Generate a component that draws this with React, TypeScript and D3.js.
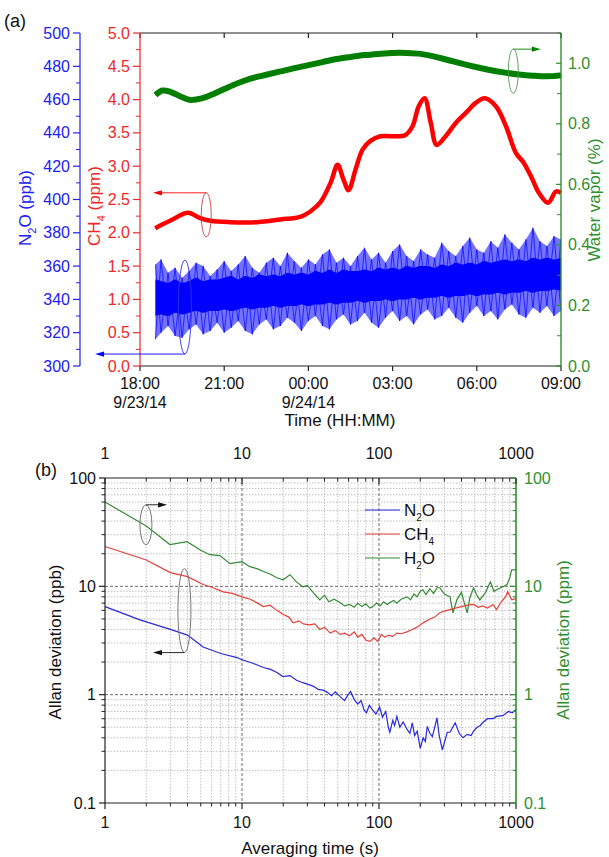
import React from 'react';
import * as d3 from 'd3';

// ---------------- Panel (a) data ----------------
const timeTickHours = [0, 3, 6, 9, 12, 15];
const timeTickLabels = ['18:00', '21:00', '00:00', '03:00', '06:00', '09:00'];
const dateTickLabels = ['9/23/14', '', '9/24/14', '', '', ''];

const h2oHours = [0.55, 0.8, 1.1, 1.5, 1.8, 2.2, 2.6, 3.0, 3.5, 4.0, 4.5, 5.0, 5.5, 6.0, 6.5, 7.0, 7.5, 8.0, 8.5, 9.0, 9.5, 10.0, 10.5, 11.0, 11.5, 12.0, 12.5, 13.0, 13.5, 14.0, 14.5, 15.0];
const h2oValues = [0.895, 0.91, 0.905, 0.888, 0.879, 0.884, 0.898, 0.915, 0.935, 0.951, 0.962, 0.973, 0.984, 0.994, 1.004, 1.014, 1.021, 1.027, 1.031, 1.034, 1.034, 1.031, 1.022, 1.01, 0.998, 0.987, 0.977, 0.969, 0.963, 0.959, 0.957, 0.96];

const ch4Hours = [0.54, 1.07, 1.71, 2.14, 2.5, 3.2, 4.18, 5.0, 5.71, 6.07, 6.43, 6.79, 7.04, 7.25, 7.43, 7.68, 7.93, 8.21, 8.57, 9.0, 9.46, 9.71, 9.93, 10.14, 10.36, 10.57, 10.89, 11.25, 11.61, 11.96, 12.29, 12.68, 13.04, 13.39, 13.64, 13.93, 14.21, 14.54, 14.82, 15.0];
const ch4Values = [2.07, 2.18, 2.3, 2.22, 2.18, 2.16, 2.16, 2.2, 2.24, 2.32, 2.46, 2.75, 3.02, 2.8, 2.64, 2.95, 3.25, 3.38, 3.45, 3.45, 3.47, 3.6, 3.9, 4.02, 3.65, 3.32, 3.45, 3.65, 3.8, 3.95, 4.02, 3.9, 3.6, 3.2, 3.07, 2.85, 2.6, 2.45, 2.62, 2.6];

const n2oHours = [0.55, 0.75, 1, 1.25, 1.5, 1.75, 2, 2.25, 2.5, 2.75, 3, 3.25, 3.5, 3.75, 4, 4.25, 4.5, 4.75, 5, 5.25, 5.5, 5.75, 6, 6.25, 6.5, 6.75, 7, 7.25, 7.5, 7.75, 8, 8.25, 8.5, 8.75, 9, 9.25, 9.5, 9.75, 10, 10.25, 10.5, 10.75, 11, 11.25, 11.5, 11.75, 12, 12.25, 12.5, 12.75, 13, 13.25, 13.5, 13.75, 14, 14.25, 14.5, 14.75, 15];
const n2oHigh = [361, 364, 356, 359, 353, 357, 362, 360, 354, 358, 363, 357, 361, 366, 359, 356, 362, 365, 360, 368, 363, 359, 364, 361, 367, 370, 362, 365, 360, 366, 371, 364, 368, 362, 369, 373, 366, 363, 370, 367, 365, 374, 369, 366, 372, 377, 370, 368, 375, 371, 379, 374, 370, 376, 383, 375, 372, 378, 376];
const n2oLow = [316, 320, 324, 318, 317, 322, 325, 319, 321, 326, 320, 323, 327, 321, 319, 325, 328, 322, 324, 329, 326, 321, 327, 330, 324, 322, 328, 331, 325, 327, 332, 326, 323, 329, 333, 327, 330, 325, 331, 334, 328, 330, 335, 329, 326, 332, 336, 330, 333, 328, 334, 337, 331, 329, 335, 332, 336, 330, 333];
const n2oCoreLow = [330, 331, 330, 332, 331, 332, 333, 332, 333, 333, 334, 333, 334, 335, 334, 335, 335, 336, 335, 336, 336, 337, 336, 337, 337, 338, 337, 338, 338, 339, 338, 339, 339, 340, 339, 340, 340, 341, 340, 341, 341, 342, 341, 342, 342, 343, 342, 343, 343, 344, 343, 344, 344, 345, 344, 345, 345, 346, 345];
const n2oCoreHigh = [352, 351, 350, 352, 350, 351, 353, 351, 352, 352, 353, 354, 352, 354, 353, 355, 354, 355, 354, 356, 355, 356, 355, 357, 356, 358, 356, 358, 357, 357, 358, 357, 359, 358, 359, 358, 360, 359, 360, 360, 359, 361, 360, 362, 361, 362, 361, 363, 362, 363, 364, 363, 364, 363, 365, 364, 365, 364, 365];

const n2oAxisTicks = [300, 320, 340, 360, 380, 400, 420, 440, 460, 480, 500];
const ch4AxisTicks = [0, 0.5, 1, 1.5, 2, 2.5, 3, 3.5, 4, 4.5, 5];
const h2oAxisTicks = [0, 0.2, 0.4, 0.6, 0.8, 1.0];

// ---------------- Panel (b) data ----------------
const n2oTau = [1, 1.8, 3, 4, 5.2, 7, 9.2, 10, 12, 14.3, 16, 18, 19.9, 22.4, 25, 27.8, 30, 33, 36, 39, 42, 45, 48, 52, 56, 59, 62, 66, 70, 74, 78, 81, 85, 90, 95, 101, 106, 112, 117, 120, 126, 130, 135, 142, 150, 160, 168, 175, 182, 190, 200, 210, 218, 225, 235, 245, 255, 265, 275, 290, 300, 315, 330, 345, 360, 385, 410, 440, 470, 490, 520, 550, 570, 620, 680, 720, 800, 880, 940, 1000];
const n2oAdev = [6.5, 4.9, 4.0, 3.55, 2.75, 2.4, 2.2, 2.1, 1.95, 1.78, 1.72, 1.6, 1.47, 1.5, 1.36, 1.29, 1.25, 1.2, 1.12, 1.1, 1.05, 0.98, 1.06, 0.96, 0.88, 0.98, 1.07, 0.9, 0.82, 0.88, 0.72, 0.68, 0.8, 0.72, 0.66, 0.77, 0.62, 0.7, 0.5, 0.45, 0.58, 0.52, 0.63, 0.5, 0.56, 0.48, 0.44, 0.55, 0.42, 0.46, 0.32, 0.4, 0.37, 0.51, 0.44, 0.41, 0.5, 0.61, 0.42, 0.31, 0.36, 0.45, 0.45, 0.5, 0.55, 0.44, 0.4, 0.43, 0.42, 0.46, 0.5, 0.52, 0.55, 0.6, 0.6, 0.63, 0.64, 0.7, 0.68, 0.73];

const ch4Tau = [1, 2, 3, 4, 5.2, 6, 7.3, 8.5, 10, 11.5, 13, 14.3, 16, 18, 20, 22, 23.6, 26, 28, 31, 34, 37, 40, 44, 48, 52, 56, 61, 66, 70, 75, 80, 86, 92, 98, 104, 110, 118, 126, 135, 145, 160, 175, 190, 210, 235, 255, 278, 300, 330, 360, 400, 440, 490, 530, 570, 620, 680, 720, 780, 840, 870, 930, 1000];
const ch4Adev = [23.3, 17.5, 13.4, 12.3, 10.4, 9.8, 8.9, 8.6, 8.0, 7.6, 7.0, 6.5, 6.7, 6.0, 5.5, 5.2, 4.6, 4.8, 4.5, 4.4, 4.5, 4.0, 4.2, 3.7, 3.9, 3.6, 3.7, 3.5, 3.8, 3.4, 3.6, 3.2, 3.1, 3.35, 3.1, 3.6, 3.4, 3.55, 3.45, 3.7, 3.65, 3.8, 4.0, 4.2, 4.6, 5.0, 5.2, 5.7, 5.9, 6.1, 6.3, 6.5, 6.7, 6.8, 6.4, 6.6, 6.3, 6.8, 6.1, 7.2, 8.0, 8.9, 7.5, 7.7];

const h2oTau = [1, 2, 2.98, 3.97, 5, 5.84, 6.9, 8.17, 10, 11.4, 13, 14.3, 16, 18, 19.9, 22.4, 25, 27.8, 30, 33, 37, 40, 43, 47, 52, 56, 61, 66, 70, 75, 80, 86, 90, 96, 102, 108, 115, 120, 128, 135, 145, 160, 170, 180, 190, 200, 209, 220, 235, 250, 265, 278, 300, 330, 340, 347, 370, 400, 420, 440, 460, 490, 520, 545, 600, 650, 690, 720, 790, 860, 900, 930, 1000];
const h2oAdev = [60, 36, 24.3, 25.8, 21.5, 19.6, 19.2, 16.2, 16.9, 15.2, 14.5, 13.7, 13.0, 12.0, 11.5, 12.8, 11.0, 9.9, 10.2, 8.8, 7.5, 8.3, 7.2, 7.6, 7.1, 6.6, 6.8, 6.4, 7.0, 6.5, 6.9, 6.3, 6.5, 7.0, 6.6, 7.2, 6.8, 7.1, 7.4, 7.0, 7.6, 8.0, 7.5, 8.5, 8.0, 9.0, 9.3, 8.4, 9.5, 8.6, 9.7, 9.7, 8.5, 8.0, 6.5, 5.7, 7.5, 8.8, 7.0, 5.7, 7.8, 9.7, 8.2, 7.5, 8.8, 11.0, 9.0, 9.3, 9.8, 10.4, 12.0, 14.2, 14.2];

const logMajor = [1, 10, 100, 1000];
const logMajorY = [0.1, 1, 10, 100];
const legendNames = ['N', 'CH', 'H'];
const legendSubs = ['2', '4', '2'];
const legendTails = ['O', '', 'O'];

const FONT = '"Liberation Sans", Arial, sans-serif';

// colours
const C_BLUE = '#0000ff';
const C_RED = '#ff0000';
const C_GREEN = '#008000';
const AX_BLUE = '#2020f0';
const AX_RED = '#f02828';
const AX_GREEN = '#2f8f2f';
const B_BLUE = '#2828dc';
const B_RED = '#e8403a';
const B_GREEN = '#358a35';

function zip(xs: number[], ys: number[]): [number, number][] {
  return xs.map((x, i) => [x, ys[i]]);
}

function minorLogs(lo: number, hi: number): number[] {
  const out: number[] = [];
  for (let d = lo; d < hi; d *= 10) {
    for (let k = 2; k <= 9; k++) out.push(d * k);
  }
  return out;
}

function Arrow({ x1, y1, x2, y2, color }: { x1: number; y1: number; x2: number; y2: number; color: string }) {
  const dir = x2 > x1 ? 1 : -1;
  return (
    <g>
      <line x1={x1} y1={y1} x2={x2 - dir * 6} y2={y2} stroke={color} strokeWidth={0.9} />
      <path d={`M${x2},${y2} L${x2 - dir * 9},${y2 - 2.6} L${x2 - dir * 9},${y2 + 2.6} Z`} fill={color} />
    </g>
  );
}

export default function App() {
  // ---------- panel (a) scales ----------
  const xA = d3.scaleLinear().domain([0, 15]).range([140, 561]);
  const yN = d3.scaleLinear().domain([300, 500]).range([366, 33]);
  const yC = d3.scaleLinear().domain([0, 5]).range([366, 33]);
  const yW = d3.scaleLinear().domain([0, 1.1]).range([366, 33]);

  const greenLine = d3.line<[number, number]>().x(d => xA(d[0])).y(d => yW(d[1])).curve(d3.curveCatmullRom.alpha(0.5))(zip(h2oHours, h2oValues)) || '';
  const redLine = d3.line<[number, number]>().x(d => xA(d[0])).y(d => yC(d[1])).curve(d3.curveCatmullRom.alpha(0.5))(zip(ch4Hours, ch4Values)) || '';
  const n2oIdx = n2oHours.map((_, i) => i);
  const blueOuter = d3.area<number>().x(i => xA(n2oHours[i])).y0(i => yN(n2oLow[i])).y1(i => yN(n2oHigh[i]))(n2oIdx) || '';
  const blueCore = d3.area<number>().x(i => xA(n2oHours[i])).y0(i => yN(n2oCoreLow[i])).y1(i => yN(n2oCoreHigh[i])).curve(d3.curveMonotoneX)(n2oIdx) || '';
  const zz = d3.line<number>().x(i => xA(n2oHours[i]));
  const zigA = zz.y(i => yN(i % 2 === 0 ? n2oHigh[i] : n2oLow[i]))(n2oIdx) || '';
  const zigB = zz.y(i => yN(i % 2 === 0 ? n2oLow[i] : n2oHigh[i]))(n2oIdx) || '';

  // ---------- panel (b) scales ----------
  const xB = d3.scaleLog().domain([1, 1000]).range([105, 516]);
  const yB = d3.scaleLog().domain([0.1, 100]).range([803, 478]);
  const lineB = d3.line<[number, number]>().x(d => xB(d[0])).y(d => yB(d[1]));
  const minorX = minorLogs(1, 1000);
  const minorY = minorLogs(0.1, 100);

  const n2oMinor = d3.range(300, 501, 10).filter(v => v % 20 !== 0);
  const ch4Minor = d3.range(0.25, 5, 0.5);
  const h2oMinor = [0.1, 0.3, 0.5, 0.7, 0.9, 1.1];

  return (
    <svg width={609} height={857} style={{ position: 'absolute', left: 0, top: 0, background: '#fff' }} fontFamily={FONT}>
      <rect x={0} y={0} width={609} height={857} fill="#fff" />
      {/* ================= PANEL (a) ================= */}
      <text x={4} y={27} fontSize={18} fill="#111">(a)</text>

      {/* data */}
      <path d={greenLine} fill="none" stroke={C_GREEN} strokeWidth={6} />
      <path d={greenLine} fill="none" stroke="#0a6a0a" strokeWidth={1} strokeDasharray="1 2" />
      <path d={redLine} fill="none" stroke={C_RED} strokeWidth={4.5} />
      <path d={blueOuter} fill={C_BLUE} fillOpacity={0.55} />
      <path d={zigA} fill="none" stroke={C_BLUE} strokeWidth={0.7} />
      <path d={zigB} fill="none" stroke={C_BLUE} strokeWidth={0.7} />
      <path d={blueCore} fill={C_BLUE} />

      {/* frame */}
      <line x1={xA(0)} x2={xA(15)} y1={33} y2={33} stroke="#222" strokeWidth={1.2} />
      <line x1={xA(0)} x2={xA(15)} y1={366} y2={366} stroke="#222" strokeWidth={1.2} />
      {timeTickHours.map((h, i) => (
        <g key={'tx' + i}>
          <line x1={xA(h)} x2={xA(h)} y1={366} y2={371} stroke="#222" strokeWidth={1.2} />
          <line x1={xA(h)} x2={xA(h)} y1={33} y2={38} stroke="#222" strokeWidth={1.2} />
          <text x={xA(h)} y={389} fontSize={16} textAnchor="middle" fill="#111">{timeTickLabels[i]}</text>
          {dateTickLabels[i] && <text x={xA(h)} y={408} fontSize={16} textAnchor="middle" fill="#111">{dateTickLabels[i]}</text>}
        </g>
      ))}
      <text x={340} y={426} fontSize={17} textAnchor="middle" fill="#111">Time (HH:MM)</text>

      {/* CH4 axis (red) */}
      <line x1={140} x2={140} y1={33} y2={366} stroke={AX_RED} strokeWidth={1.2} />
      {ch4AxisTicks.map(v => (
        <g key={'c' + v}>
          <line x1={133} x2={140} y1={yC(v)} y2={yC(v)} stroke={AX_RED} strokeWidth={1.2} />
          <text x={130} y={yC(v) + 5.5} fontSize={16} textAnchor="end" fill={AX_RED}>{v.toFixed(1)}</text>
        </g>
      ))}
      {ch4Minor.map(v => <line key={'cm' + v} x1={136} x2={140} y1={yC(v)} y2={yC(v)} stroke={AX_RED} strokeWidth={1} />)}
      <text transform={`translate(100,206) rotate(-90)`} fontSize={17} textAnchor="middle" fill={AX_RED}>
        CH<tspan fontSize={11} dy={5}>4</tspan><tspan dy={-5}> (ppm)</tspan>
      </text>

      {/* N2O axis (blue) */}
      <line x1={80} x2={80} y1={33} y2={366} stroke={AX_BLUE} strokeWidth={1.2} />
      {n2oAxisTicks.map(v => (
        <g key={'n' + v}>
          <line x1={73} x2={80} y1={yN(v)} y2={yN(v)} stroke={AX_BLUE} strokeWidth={1.2} />
          <text x={70} y={yN(v) + 5.5} fontSize={16} textAnchor="end" fill={AX_BLUE}>{v}</text>
        </g>
      ))}
      {n2oMinor.map(v => <line key={'nm' + v} x1={76} x2={80} y1={yN(v)} y2={yN(v)} stroke={AX_BLUE} strokeWidth={1} />)}
      <text transform={`translate(31,208) rotate(-90)`} fontSize={17} textAnchor="middle" fill={AX_BLUE}>
        N<tspan fontSize={11} dy={5}>2</tspan><tspan dy={-5}>O (ppb)</tspan>
      </text>

      {/* Water vapor axis (green) */}
      <line x1={561} x2={561} y1={33} y2={366} stroke={AX_GREEN} strokeWidth={1.4} />
      {h2oAxisTicks.map(v => (
        <g key={'w' + v}>
          <line x1={556} x2={561} y1={yW(v)} y2={yW(v)} stroke={AX_GREEN} strokeWidth={1.2} />
          <text x={568} y={yW(v) + 5.5} fontSize={16} fill={AX_GREEN}>{v.toFixed(1)}</text>
        </g>
      ))}
      {h2oMinor.map(v => <line key={'wm' + v} x1={557} x2={561} y1={yW(v)} y2={yW(v)} stroke={AX_GREEN} strokeWidth={1} />)}
      <text transform={`translate(600,200) rotate(-90)`} fontSize={17} textAnchor="middle" fill={AX_GREEN}>Water vapor (%)</text>

      {/* annotations (a) */}
      <ellipse cx={xA(13.3)} cy={yW(0.974)} rx={5} ry={22} fill="none" stroke="#4a9a4a" strokeWidth={0.9} />
      <Arrow x1={xA(13.3)} y1={yW(0.974) - 22} x2={xA(14.28)} y2={yW(0.974) - 22} color={C_GREEN} />
      <ellipse cx={xA(2.36)} cy={yC(2.27)} rx={5} ry={22} fill="none" stroke="#d04040" strokeWidth={0.9} />
      <Arrow x1={xA(2.36)} y1={yC(2.27) - 22} x2={xA(0.46)} y2={yC(2.27) - 22} color={C_RED} />
      <ellipse cx={xA(1.6)} cy={yN(335.4)} rx={6.5} ry={47} fill="none" stroke="#3030e0" strokeWidth={0.9} />
      <Arrow x1={xA(1.6)} y1={yN(335.4) + 47} x2={xA(-1.6)} y2={yN(335.4) + 47} color={C_BLUE} />

      {/* ================= PANEL (b) ================= */}
      <text x={35} y={476} fontSize={18} fill="#111">(b)</text>

      {/* grid */}
      {minorX.map(v => <line key={'gx' + v} x1={xB(v)} x2={xB(v)} y1={478} y2={803} stroke="#b0b0b0" strokeWidth={0.8} strokeDasharray="1.5 1.5" />)}
      {minorY.map(v => <line key={'gy' + v} x1={105} x2={516} y1={yB(v)} y2={yB(v)} stroke="#b0b0b0" strokeWidth={0.8} strokeDasharray="1.5 1.5" />)}
      {[10, 100].map(v => <line key={'gX' + v} x1={xB(v)} x2={xB(v)} y1={478} y2={803} stroke="#444" strokeWidth={0.8} strokeDasharray="3 2" />)}
      {[1, 10].map(v => <line key={'gY' + v} x1={105} x2={516} y1={yB(v)} y2={yB(v)} stroke="#444" strokeWidth={0.8} strokeDasharray="3 2" />)}

      {/* series */}
      <path d={lineB(zip(h2oTau, h2oAdev)) || ''} fill="none" stroke={B_GREEN} strokeWidth={1.2} />
      <path d={lineB(zip(ch4Tau, ch4Adev)) || ''} fill="none" stroke={B_RED} strokeWidth={1.2} />
      <path d={lineB(zip(n2oTau, n2oAdev)) || ''} fill="none" stroke={B_BLUE} strokeWidth={1.2} />

      {/* frame & axes */}
      <line x1={105} x2={516} y1={478} y2={478} stroke="#222" strokeWidth={1.2} />
      <line x1={105} x2={516} y1={803} y2={803} stroke="#222" strokeWidth={1.2} />
      <line x1={105} x2={105} y1={478} y2={803} stroke="#222" strokeWidth={1.2} />
      <line x1={516} x2={516} y1={478} y2={803} stroke={AX_GREEN} strokeWidth={1.6} />
      {logMajor.map(v => (
        <g key={'bx' + v}>
          <line x1={xB(v)} x2={xB(v)} y1={803} y2={809} stroke="#222" strokeWidth={1.2} />
          <line x1={xB(v)} x2={xB(v)} y1={478} y2={484} stroke="#222" strokeWidth={1.2} />
          <text x={xB(v)} y={828} fontSize={16} textAnchor="middle" fill="#111">{v}</text>
          <text x={xB(v)} y={459} fontSize={16} textAnchor="middle" fill="#111">{v}</text>
        </g>
      ))}
      {minorX.map(v => (
        <g key={'bxm' + v}>
          <line x1={xB(v)} x2={xB(v)} y1={803} y2={806.5} stroke="#222" strokeWidth={1} />
          <line x1={xB(v)} x2={xB(v)} y1={478} y2={481.5} stroke="#222" strokeWidth={1} />
        </g>
      ))}
      {logMajorY.map(v => (
        <g key={'by' + v}>
          <line x1={99} x2={105} y1={yB(v)} y2={yB(v)} stroke="#222" strokeWidth={1.2} />
          <line x1={510} x2={516} y1={yB(v)} y2={yB(v)} stroke={AX_GREEN} strokeWidth={1.2} />
          <text x={96} y={yB(v) + 5.5} fontSize={16} textAnchor="end" fill="#111">{v}</text>
          <text x={524} y={yB(v) + 5.5} fontSize={16} fill={AX_GREEN}>{v}</text>
        </g>
      ))}
      {minorY.map(v => (
        <g key={'bym' + v}>
          <line x1={101.5} x2={105} y1={yB(v)} y2={yB(v)} stroke="#222" strokeWidth={1} />
          <line x1={512.5} x2={516} y1={yB(v)} y2={yB(v)} stroke={AX_GREEN} strokeWidth={1} />
        </g>
      ))}
      <text x={310} y={854} fontSize={17} textAnchor="middle" fill="#111">Averaging time (s)</text>
      <text transform={`translate(61,642) rotate(-90)`} fontSize={17} textAnchor="middle" fill="#111">Allan deviation (ppb)</text>
      <text transform={`translate(569,640) rotate(-90)`} fontSize={17} textAnchor="middle" fill={AX_GREEN}>Allan deviation (ppm)</text>

      {/* legend */}
      {[B_BLUE, B_RED, B_GREEN].map((c, i) => (
        <g key={'lg' + i}>
          <line x1={365} x2={400} y1={510 + i * 24} y2={510 + i * 24} stroke={c} strokeWidth={1.2} />
          <text x={404} y={516 + i * 24} fontSize={17} fill="#111">
            {legendNames[i]}<tspan fontSize={10} dy={5}>{legendSubs[i]}</tspan><tspan dy={-5}>{legendTails[i]}</tspan>
          </text>
        </g>
      ))}

      {/* annotations (b) */}
      <ellipse cx={xB(1.99)} cy={yB(37)} rx={6} ry={20} fill="none" stroke="#777" strokeWidth={1} />
      <Arrow x1={xB(1.99)} y1={yB(37) - 20} x2={xB(2.84)} y2={yB(37) - 20} color="#111" />
      <ellipse cx={xB(3.8)} cy={yB(5.97)} rx={6.5} ry={42} fill="none" stroke="#777" strokeWidth={1} />
      <Arrow x1={xB(3.8)} y1={yB(5.97) + 42} x2={xB(2.24)} y2={yB(5.97) + 42} color="#111" />
    </svg>
  );
}
